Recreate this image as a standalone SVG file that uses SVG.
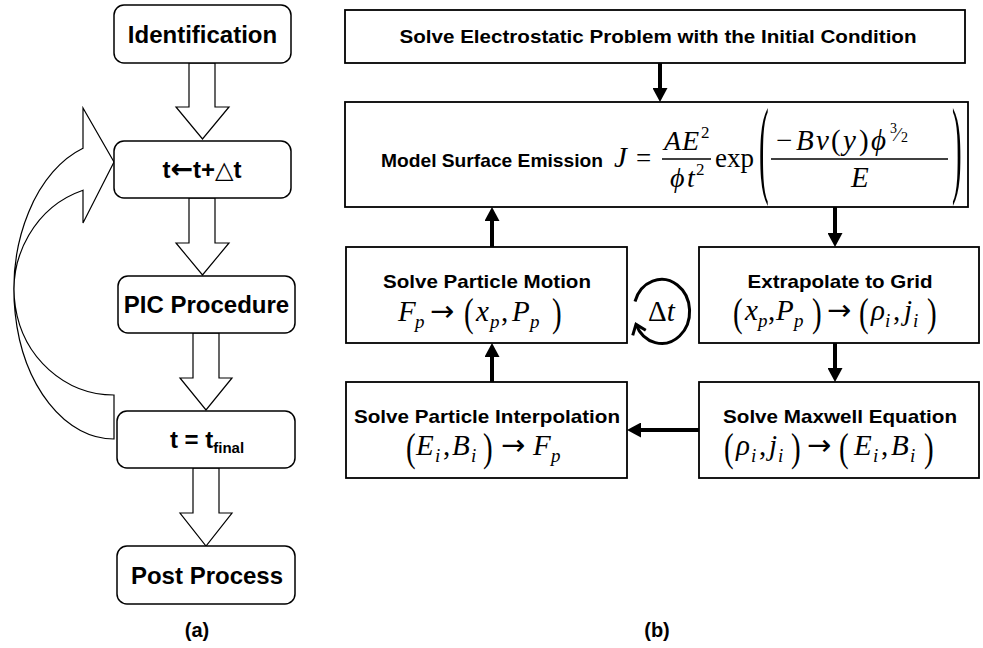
<svg xmlns="http://www.w3.org/2000/svg" width="983" height="648" viewBox="0 0 983 648">
<style>
  .rbox { fill: #fff; stroke: #000; stroke-width: 1.5; }
  .sbox { fill: #fff; stroke: #000; stroke-width: 1.8; }
  .hollow { fill: #fff; stroke: #000; stroke-width: 1.2; stroke-linejoin: miter; }
  .lbl { font-family: "Liberation Sans", Arial, "DejaVu Sans", sans-serif; font-weight: bold; font-size: 24px; text-anchor: middle; fill: #000; }
  .ttl { font-family: "Liberation Sans", Arial, sans-serif; font-weight: bold; font-size: 19px; text-anchor: middle; fill: #000; }
  .cap { font-family: "Liberation Sans", Arial, sans-serif; font-weight: bold; font-size: 20px; text-anchor: middle; fill: #000; }
  .m { font-family: "Liberation Serif", "Times New Roman", "DejaVu Serif", serif; font-size: 29px; fill: #000; }
  .i { font-style: italic; }
  .sub { font-size: 19px; font-style: italic; }
  .sup { font-size: 17px; }
  .arr { font-family: "DejaVu Sans", sans-serif; font-size: 29px; font-style: normal; }
  .fr { stroke: #000; stroke-width: 1.3; }
  .flow { stroke: #000; stroke-width: 4; fill: none; marker-end: url(#head); }
  .loop { stroke: #000; stroke-width: 3; fill: none; marker-end: url(#chev); }
</style>
<defs>
  <marker id="head" markerUnits="userSpaceOnUse" viewBox="0 0 14 15" markerWidth="14" markerHeight="15" refX="0" refY="7.5" orient="auto">
    <path d="M0,0 L14,7.5 L0,15 Z" fill="#000"/>
  </marker>
  <marker id="chev" markerUnits="userSpaceOnUse" viewBox="-12 -9 14 18" markerWidth="14" markerHeight="18" refX="0" refY="0" orient="auto">
    <path d="M-9,-7 L0,0 L-9,7" fill="none" stroke="#000" stroke-width="3"/>
  </marker>
</defs>
<rect width="983" height="648" fill="#fff"/>

<!-- (a) time loop -->
<g id="a-connectors">
  <polygon class="hollow" points="189,63 215,63 215,107 229,107 202.5,139 176,107 189,107"/>
  <polygon class="hollow" points="189,198 215,198 215,243 229,243 202.5,275 176,243 189,243"/>
  <polygon class="hollow" points="193,333 219,333 219,378 232,378 206,410 180,378 193,378"/>
  <polygon class="hollow" points="193,468 219,468 219,513 232,513 206,546 180,513 193,513"/>
  <path class="hollow" d="M114,439 A100,149 0 0 1 83,148.3 L83,108 L114,162 L83,223 L83,190.2 A100,105 0 0 0 114,395 Z"/>
</g>
<g id="identification">
  <rect class="rbox" x="114" y="5" width="177" height="58" rx="10"/>
  <text class="lbl" x="202.5" y="43">Identification</text>
</g>
<g id="time-step">
  <rect class="rbox" x="114" y="141" width="177" height="57" rx="10"/>
  <text class="lbl" x="202" y="178">t<tspan font-family="DejaVu Sans, sans-serif" font-size="27">←</tspan>t+△t</text>
</g>
<g id="pic-procedure">
  <rect class="rbox" x="118" y="276" width="177" height="57" rx="10"/>
  <text class="lbl" x="206.5" y="313">PIC Procedure</text>
</g>
<g id="final-check">
  <rect class="rbox" x="117" y="411" width="178" height="57" rx="10"/>
  <text class="lbl" x="207" y="448">t = t<tspan font-size="15" dy="5">final</tspan></text>
</g>
<g id="post-process">
  <rect class="rbox" x="117" y="546" width="178" height="58" rx="10"/>
  <text class="lbl" x="207" y="584">Post Process</text>
</g>
<text class="cap" x="197" y="637">(a)</text>

<!-- (b) PIC cycle -->
<g id="b-connectors">
  <path class="flow" d="M660,63 V88"/>
  <path class="flow" d="M835,207 V233"/>
  <path class="flow" d="M835,343 V368"/>
  <path class="flow" d="M699,430 H641"/>
  <path class="flow" d="M492,382 V357"/>
  <path class="flow" d="M492,247 V221"/>
  <path class="loop" d="M635,301.5 A28,32 0 1 1 636,324.4"/>
  <text class="m" x="648" y="321" font-size="31">Δ<tspan class="i">t</tspan></text>
</g>

<g id="electrostatic">
  <rect class="sbox" x="345" y="10" width="620" height="53"/>
  <text class="ttl" x="658" y="43" textLength="517" lengthAdjust="spacingAndGlyphs">Solve Electrostatic Problem with the Initial Condition</text>
</g>

<g id="surface-emission">
  <rect class="sbox" x="345" y="102" width="623" height="105"/>
  <text class="ttl" x="381" y="167" style="text-anchor:start" textLength="222" lengthAdjust="spacingAndGlyphs">Model Surface Emission</text>
  <text class="m">
    <tspan class="i" x="614" y="167">J</tspan>
    <tspan font-size="27" x="636" y="167">=</tspan>
    <tspan class="i" font-size="28" x="664" y="150">A</tspan><tspan class="i" font-size="28" x="682" y="150">E</tspan><tspan class="sup" x="701" y="138">2</tspan>
    <tspan class="i" font-size="28" x="670" y="187">ϕ</tspan><tspan class="i" font-size="28" x="687" y="187">t</tspan><tspan class="sup" x="696" y="175">2</tspan>
    <tspan font-size="27" x="715" y="167">exp</tspan>
    <tspan x="776" y="150">−</tspan><tspan class="i" x="796" y="150">B</tspan><tspan class="i" x="816" y="150">v</tspan>
    <tspan x="831" y="150">(</tspan><tspan class="i" x="843" y="150">y</tspan><tspan x="859" y="150">)</tspan>
    <tspan class="i" x="871" y="150">ϕ</tspan>
    <tspan font-size="14" x="890" y="133">3</tspan><tspan font-size="19" x="896" y="141">⁄</tspan><tspan font-size="14" x="901" y="142">2</tspan>
    <tspan class="i" x="851" y="187">E</tspan>
  </text>
  <line class="fr" x1="662" y1="159" x2="711" y2="159"/>
  <line class="fr" x1="771" y1="159" x2="948" y2="159"/>
  <text class="m" transform="translate(759,183) scale(1,3.72)">(</text>
  <text class="m" transform="translate(952,183) scale(1,3.72)">)</text>
</g>

<g id="particle-motion">
  <rect class="sbox" x="346" y="247" width="281" height="96"/>
  <text class="ttl" x="487" y="288" textLength="208" lengthAdjust="spacingAndGlyphs">Solve Particle Motion</text>
  <text class="m">
    <tspan class="i" x="398" y="321">F</tspan><tspan class="sub" x="415" y="328">p</tspan>
    <tspan class="arr" x="430" y="321">→</tspan>
    <tspan class="i" x="476" y="321">x</tspan><tspan class="sub" x="490" y="328">p</tspan>
    <tspan x="501" y="321">,</tspan>
    <tspan class="i" x="512" y="321">P</tspan><tspan class="sub" x="530" y="328">p</tspan>
  </text>
  <text class="m" transform="translate(464,326) scale(1,1.4)">(</text>
  <text class="m" transform="translate(552,326) scale(1,1.4)">)</text>
</g>

<g id="extrapolate">
  <rect class="sbox" x="699" y="247" width="280" height="96"/>
  <text class="ttl" x="840" y="288" textLength="185" lengthAdjust="spacingAndGlyphs">Extrapolate to Grid</text>
  <text class="m">
    <tspan class="i" x="745" y="320">x</tspan><tspan class="sub" x="758" y="327">p</tspan>
    <tspan x="768" y="320">,</tspan>
    <tspan class="i" x="776" y="320">P</tspan><tspan class="sub" x="794" y="327">p</tspan>
    <tspan class="arr" x="827" y="320">→</tspan>
    <tspan class="i" x="871" y="320">ρ</tspan><tspan class="sub" x="885" y="327">i</tspan>
    <tspan x="893" y="320">,</tspan>
    <tspan class="i" x="904" y="320">j</tspan><tspan class="sub" x="913" y="327">i</tspan>
  </text>
  <text class="m" transform="translate(733,326) scale(1,1.4)">(</text>
  <text class="m" transform="translate(812,326) scale(1,1.4)">)</text>
  <text class="m" transform="translate(859,326) scale(1,1.4)">(</text>
  <text class="m" transform="translate(927,326) scale(1,1.4)">)</text>
</g>

<g id="maxwell">
  <rect class="sbox" x="699" y="382" width="280" height="96"/>
  <text class="ttl" x="840" y="423" textLength="234" lengthAdjust="spacingAndGlyphs">Solve Maxwell Equation</text>
  <text class="m">
    <tspan class="i" x="736" y="455">ρ</tspan><tspan class="sub" x="751" y="462">i</tspan>
    <tspan x="759" y="455">,</tspan>
    <tspan class="i" x="769" y="455">j</tspan><tspan class="sub" x="778" y="462">i</tspan>
    <tspan class="arr" x="807" y="455">→</tspan>
    <tspan class="i" x="854" y="455">E</tspan><tspan class="sub" x="873" y="462">i</tspan>
    <tspan x="881" y="455">,</tspan>
    <tspan class="i" x="891" y="455">B</tspan><tspan class="sub" x="910" y="462">i</tspan>
  </text>
  <text class="m" transform="translate(724,461) scale(1,1.4)">(</text>
  <text class="m" transform="translate(791,461) scale(1,1.4)">)</text>
  <text class="m" transform="translate(839,461) scale(1,1.4)">(</text>
  <text class="m" transform="translate(924,461) scale(1,1.4)">)</text>
</g>

<g id="interpolation">
  <rect class="sbox" x="346" y="382" width="281" height="96"/>
  <text class="ttl" x="487" y="423" textLength="266" lengthAdjust="spacingAndGlyphs">Solve Particle Interpolation</text>
  <text class="m">
    <tspan class="i" x="416" y="455">E</tspan><tspan class="sub" x="435" y="462">i</tspan>
    <tspan x="443" y="455">,</tspan>
    <tspan class="i" x="452" y="455">B</tspan><tspan class="sub" x="471" y="462">i</tspan>
    <tspan class="arr" x="501" y="455">→</tspan>
    <tspan class="i" x="533" y="455">F</tspan><tspan class="sub" x="551" y="462">p</tspan>
  </text>
  <text class="m" transform="translate(406,461) scale(1,1.4)">(</text>
  <text class="m" transform="translate(483,461) scale(1,1.4)">)</text>
</g>

<text class="cap" x="657" y="637">(b)</text>
</svg>
